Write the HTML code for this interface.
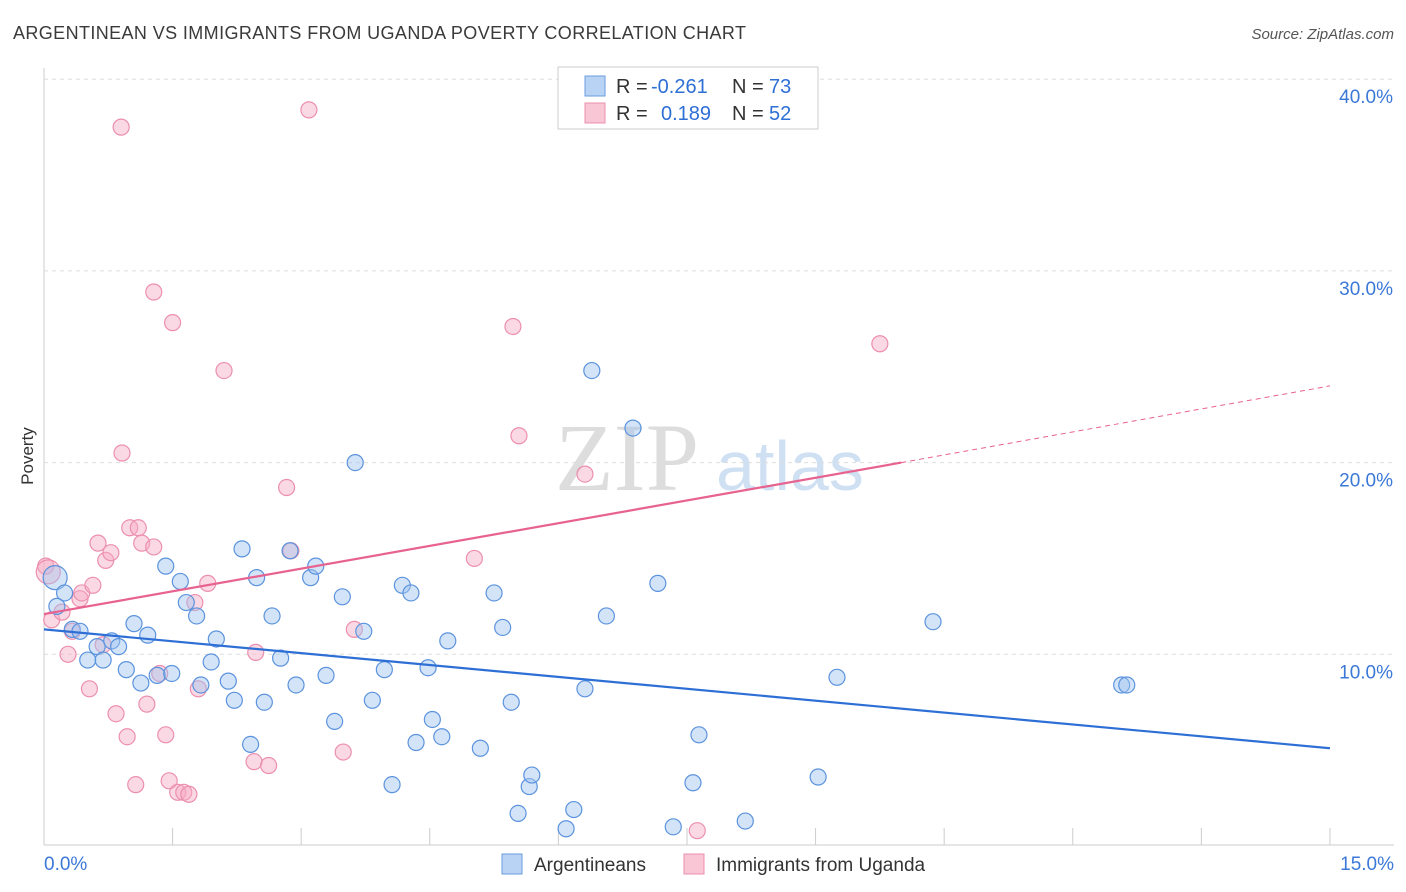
<!DOCTYPE html>
<html><head><meta charset="utf-8"><style>
body{margin:0;background:#fff;font-family:"Liberation Sans",sans-serif}
</style></head><body>
<svg width="1406" height="892" style="position:absolute;left:0;top:0" font-family="Liberation Sans, sans-serif">
<text x="13" y="39" font-size="18" fill="#3a3a3a" textLength="733">ARGENTINEAN VS IMMIGRANTS FROM UGANDA POVERTY CORRELATION CHART</text>
<text x="1394" y="39" font-size="15" fill="#555" text-anchor="end" font-style="italic">Source: ZipAtlas.com</text>
<text x="33" y="456" font-size="17" fill="#333" transform="rotate(-90 33 456)" text-anchor="middle">Poverty</text>
<text x="555" y="490" font-size="96" fill="#ddd" font-family="Liberation Serif, serif">ZIP</text>
<text x="716" y="490" font-size="70" fill="#cfe0f3">atlas</text>
<g id="grid"></g><g id="marks"></g>
<g>
<rect x="558" y="67" width="260" height="62" fill="#fff" stroke="#ccc"/>
<rect x="585" y="76" width="20" height="20" fill="#b9d3f5" stroke="#6a9ee0"/>
<rect x="585" y="103" width="20" height="20" fill="#f9c6d5" stroke="#ec8fae"/>
<text x="616" y="93" font-size="20" fill="#333">R =</text>
<text x="651" y="93" font-size="20" fill="#2e6fd6">-0.261</text>
<text x="732" y="93" font-size="20" fill="#333">N =</text>
<text x="769" y="93" font-size="20" fill="#2e6fd6">73</text>
<text x="616" y="120" font-size="20" fill="#333">R =</text>
<text x="661" y="120" font-size="20" fill="#2e6fd6">0.189</text>
<text x="732" y="120" font-size="20" fill="#333">N =</text>
<text x="769" y="120" font-size="20" fill="#2e6fd6">52</text>
</g>
<g>
<rect x="502" y="854" width="20" height="20" fill="#b9d3f5" stroke="#6a9ee0"/>
<text x="534" y="871" font-size="19" fill="#333">Argentineans</text>
<rect x="684" y="854" width="20" height="20" fill="#f9c6d5" stroke="#ec8fae"/>
<text x="716" y="871" font-size="19" fill="#333">Immigrants from Uganda</text>
</g>
</svg>
<script>
const xTicks=[0,1.5,3,4.5,6,7.5,9,10.5,12,13.5,15];
const yTicks=[10,20,30,40];
const blueX=[0.13,0.24,0.15,0.33,0.42,0.51,0.62,0.69,0.79,0.87,0.96,1.05,1.13,1.21,1.32,1.42,1.49,1.59,1.66,1.78,1.83,1.95,2.01,2.15,2.22,2.31,2.41,2.48,2.57,2.66,2.76,2.87,2.94,3.11,3.17,3.29,3.39,3.48,3.63,3.73,3.83,3.97,4.06,4.18,4.28,4.34,4.48,4.53,4.64,4.71,5.09,5.25,5.35,5.45,5.53,5.66,5.69,6.09,6.18,6.31,6.39,6.56,6.87,7.16,7.34,7.57,7.64,8.18,9.03,9.25,10.37,12.57,12.63];
const blueY=[14.0,13.2,12.5,11.3,11.2,9.7,10.4,9.7,10.7,10.4,9.2,11.6,8.5,11.0,8.9,14.6,9.0,13.8,12.7,12.0,8.4,9.6,10.8,8.6,7.6,15.5,5.3,14.0,7.5,12.0,9.8,15.4,8.4,14.0,14.6,8.9,6.5,13.0,20.0,11.2,7.6,9.2,3.2,13.6,13.2,5.4,9.3,6.6,5.7,10.7,5.1,13.2,11.4,7.5,1.7,3.1,3.7,0.9,1.9,8.2,24.8,12.0,21.8,13.7,1.0,3.3,5.8,1.3,3.6,8.8,11.7,8.4,8.4];
const pinkX=[0.02,0.09,0.21,0.28,0.33,0.42,0.44,0.53,0.57,0.63,0.69,0.72,0.78,0.84,0.90,0.91,0.97,1.00,1.07,1.10,1.14,1.20,1.28,1.28,1.35,1.42,1.46,1.50,1.56,1.63,1.69,1.76,1.80,1.91,2.10,2.45,2.47,2.62,2.83,2.88,3.09,3.49,3.62,5.02,5.47,5.54,6.31,7.62,9.75,0.05];
const pinkY=[14.6,11.8,12.2,10.0,11.2,12.9,13.2,8.2,13.6,15.8,10.5,14.9,15.3,6.9,37.5,20.5,5.7,16.6,3.2,16.6,15.8,7.4,28.9,15.6,9.0,5.8,3.4,27.3,2.8,2.8,2.7,12.7,8.2,13.7,24.8,4.4,10.1,4.2,18.7,15.4,38.4,4.9,11.3,15.0,27.1,21.4,19.4,0.8,26.2,14.3];
const xs=v=>44+v*85.73, ys=v=>846-v*19.17;
const ns="http://www.w3.org/2000/svg";
function mk(t,a,p){const e=document.createElementNS(ns,t);for(const k in a)e.setAttribute(k,a[k]);p.appendChild(e);return e;}
const g=document.getElementById('grid'),m=document.getElementById('marks');
mk('line',{x1:44,y1:845,x2:1394,y2:845,stroke:'#ccc'},g);
mk('line',{x1:44,y1:68,x2:44,y2:845,stroke:'#ccc'},g);
yTicks.forEach(v=>{
 const l=mk('line',{x1:44,y1:ys(v),x2:1394,y2:ys(v),stroke:'#ddd','stroke-dasharray':'4,4'},g);
 
 
 const t=mk('text',{x:1393,y:ys(v)+24,'font-size':19,fill:'#3b78d8','text-anchor':'end'},g);t.textContent=v.toFixed(1)+'%';
 
 
});
xTicks.forEach(v=>{
 const l=mk('line',{x1:xs(v),y1:828,x2:xs(v),y2:845,stroke:'#ccc'},g);
 
 
});
[[0,'0.0%','start',44],[15,'15.0%','end',1394]].forEach(([v,s,a,x])=>{
 const t=mk('text',{x:x,y:870,'font-size':19,fill:'#3b78d8','text-anchor':a},g);t.textContent=s;
 
 
});
pinkX.forEach((x,i)=>{
 const c=mk('circle',{cx:xs(x),cy:ys(pinkY[i]),r:i==pinkX.length-1?12:8,fill:'rgba(246,170,195,0.45)',stroke:'#ec8fae','stroke-width':1.2},m);
 
 
});
blueX.forEach((x,i)=>{
 const c=mk('circle',{cx:xs(x),cy:ys(blueY[i]),r:i==0?12:8,fill:'rgba(160,195,240,0.45)',stroke:'#5b93dd','stroke-width':1.2},m);
 
 
});
const bl=mk('line',{x1:xs(0),y1:ys(11.3),x2:xs(15),y2:ys(5.1),stroke:'#2e6fd6','stroke-width':2.2},m);


const pl=mk('line',{x1:xs(0),y1:ys(12.1),x2:xs(10),y2:ys(20.0),stroke:'#e8628f','stroke-width':2.2},m);


const pd=mk('line',{x1:xs(10),y1:ys(20.0),x2:xs(15),y2:ys(24.0),stroke:'#e8628f','stroke-width':1,'stroke-dasharray':'5,4'},m);


</script>
</body></html>
